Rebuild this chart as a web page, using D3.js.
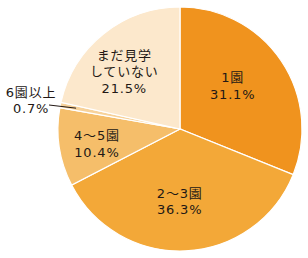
<!DOCTYPE html>
<html>
<head>
<meta charset="utf-8">
<script src="https://cdn.jsdelivr.net/npm/d3@7"></script>
<style>
  body { margin: 0; background: #fff; }
  text { font-family: "DejaVu Sans", "Noto Sans CJK JP", sans-serif; fill: #231815; }
</style>
</head>
<body>
<svg id="Viz" width="308" height="258"></svg>
<script>
// data
var categories = ["1園", "2～3園", "4～5園", "6園以上", "まだ見学していない"];
var values = [31.1, 36.3, 10.4, 0.7, 21.5];
var labelLines = [["1園"], ["2～3園"], ["4～5園"], ["6園以上"], ["まだ見学", "していない"]];
var colors = ["#f0931e", "#f3a838", "#f5be6a", "#f7d29a", "#fce8cc"];

var svg = d3.select("#Viz"),
    cx = 180, cy = 129, r = 122;

var g = svg.append("g").attr("transform", "translate(" + cx + "," + cy + ")");

var data = categories.map(function(c, i) { return {name: c, value: values[i], lines: labelLines[i], i: i}; });

var pie = d3.pie().sort(null).value(function(d) { return d.value; });
var arc = d3.arc().innerRadius(0).outerRadius(r);
var labelArc = d3.arc().innerRadius(78).outerRadius(78);
var leaderArc = d3.arc().innerRadius(106).outerRadius(106);

var arcs = pie(data);

g.selectAll("path")
  .data(arcs)
  .enter()
  .append("path")
  .attr("d", arc)
  .attr("fill", function(d) { return colors[d.data.i]; })
  .attr("stroke", "#fff")
  .attr("stroke-width", 1.2);

// hand nudges so labels sit like the original
var nudge = {"1園": [-12, 0], "2～3園": [-4, -6], "4～5園": [-6, 3], "まだ見学していない": [-7, 3]};

arcs.forEach(function(d) {
  var name = d.data.name;
  var lines = d.data.lines.concat([d3.format(".1f")(d.data.value) + "%"]);
  var x, y;
  if (name === "6園以上") {
    var p = leaderArc.centroid(d);
    x = 31 - cx; y = 100 - cy;
    g.append("line")
      .attr("x1", 49 - cx).attr("y1", 105 - cy)
      .attr("x2", p[0]).attr("y2", p[1])
      .attr("stroke", "#231815").attr("stroke-width", 1);
  } else {
    var c = labelArc.centroid(d);
    x = c[0] + nudge[name][0];
    y = c[1] + nudge[name][1];
  }
  var lh = 16.5, top = y - (lines.length - 1) * lh / 2;
  lines.forEach(function(s, k) {
    g.append("text")
      .attr("text-anchor", "middle")
      .attr("font-size", 13)
      .attr("letter-spacing", 0.8)
      .attr("x", x)
      .attr("y", top + k * lh)
      .attr("dy", "0.38em")
      .text(s);
  });
});
</script>
</body>
</html>
